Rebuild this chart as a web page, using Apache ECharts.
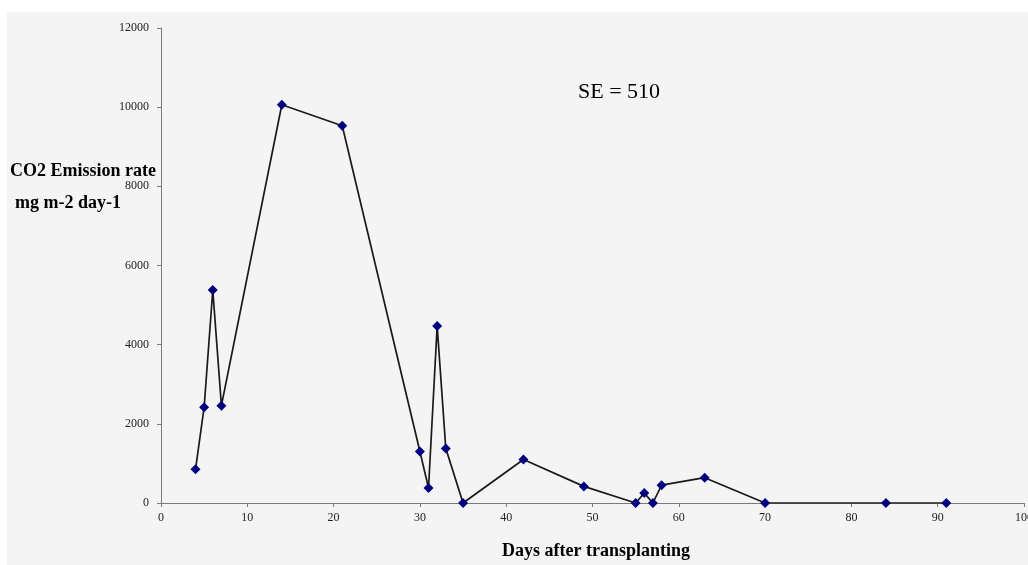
<!DOCTYPE html>
<html>
<head>
<meta charset="utf-8">
<script src="https://cdn.jsdelivr.net/npm/echarts@6/dist/echarts.min.js"></script>
<style>
html,body{margin:0;padding:0;background:#fff;}
#chart{width:1028px;height:565px;}
</style>
</head>
<body>
<div id="chart"></div>
<script>
const days = [4, 5, 6, 7, 14, 21, 30, 31, 32, 33, 35, 42, 49, 55, 56, 57, 58, 63, 70, 84, 91];
const emission = [850, 2420, 5380, 2460, 10060, 9530, 1300, 380, 4470, 1380, 0, 1100, 420, 0, 250, 0, 450, 640, 0, 0, 0];
const yTitleLines = ['CO2 Emission rate', 'mg m-2 day-1'];
const xTitle = 'Days after transplanting';
const annotation = 'SE = 510';

const chart = echarts.init(document.getElementById('chart'));
const serif = '"Liberation Serif", "DejaVu Serif", serif';
chart.setOption({
  animation: false,
  backgroundColor: '#ffffff',
  graphic: [
    { type: 'rect', z: -10, shape: { x: 7, y: 12, width: 1021, height: 553 }, style: { fill: '#f4f4f4' } },
    { type: 'text', left: 10, top: 162, style: { text: yTitleLines[0], font: 'bold 18px ' + serif, fill: '#000' } },
    { type: 'text', left: 15, top: 194, style: { text: yTitleLines[1], font: 'bold 18px ' + serif, fill: '#000' } },
    { type: 'text', left: 502, top: 542, style: { text: xTitle, font: 'bold 18px ' + serif, fill: '#000' } },
    { type: 'text', left: 578, top: 81, style: { text: annotation, font: '22px ' + serif, fill: '#000' } }
  ],
  grid: { left: 161, right: 4, top: 28, bottom: 62, containLabel: false, outerBoundsMode: 'none' },
  xAxis: {
    type: 'value', min: 0, max: 100, interval: 10,
    axisLine: { lineStyle: { color: '#7a7a7a', width: 1 } },
    axisTick: { show: true, inside: false, length: 4, lineStyle: { color: '#7a7a7a' } },
    axisLabel: { color: '#222', fontFamily: serif, fontSize: 12, margin: 9, formatter: v => String(v) },
    splitLine: { show: false }
  },
  yAxis: {
    type: 'value', min: 0, max: 12000, interval: 2000,
    axisLine: { show: true, lineStyle: { color: '#7a7a7a', width: 1 } },
    axisTick: { show: true, inside: false, length: 4, lineStyle: { color: '#7a7a7a' } },
    axisLabel: { color: '#222', fontFamily: serif, fontSize: 12, margin: 12, formatter: v => String(v) },
    splitLine: { show: false }
  },
  series: [{
    type: 'line',
    data: days.map((d, i) => [d, emission[i]]),
    symbol: 'diamond',
    symbolSize: 10,
    itemStyle: { color: '#00007f' },
    lineStyle: { color: '#1a1a1a', width: 1.7 },
    z: 5
  }]
});
</script>
</body>
</html>
